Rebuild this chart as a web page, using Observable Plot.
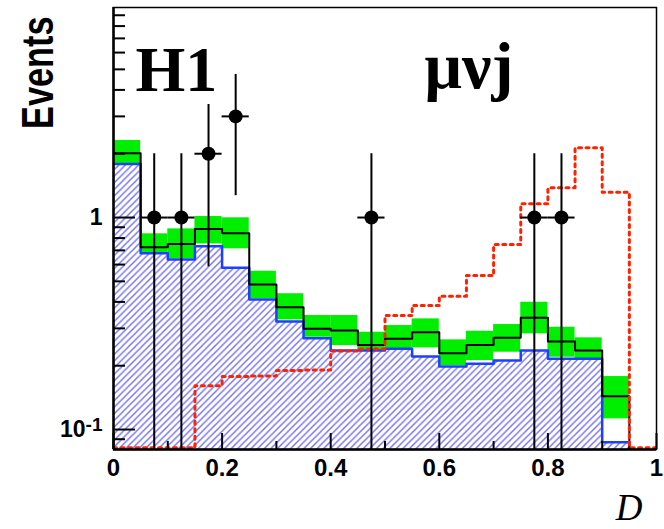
<!DOCTYPE html>
<html><head><meta charset="utf-8">
<script src="https://cdn.jsdelivr.net/npm/d3@7"></script>
<script src="https://cdn.jsdelivr.net/npm/@observablehq/plot@0.6"></script>
<style>body{margin:0;background:#fff} svg{display:block}</style>
</head><body><div id="chart"></div>
<script>
// ---- data ----
const binEdges = [0,0.05,0.1,0.15,0.2,0.25,0.3,0.35,0.4,0.45,0.5,0.55,0.6,0.65,0.7,0.75,0.8,0.85,0.9,0.95,1.0];
const totalSM  = [2.01,0.724,0.751,0.884,0.843,0.483,0.377,0.2985,0.293,0.2508,0.2678,0.2877,0.229,0.2508,0.2707,0.3364,0.2602,0.236,0.1436,0];
const totalHi  = [2.31,0.838,0.884,1.011,0.997,0.558,0.437,0.345,0.345,0.2877,0.3094,0.3327,0.2649,0.2908,0.3128,0.3985,0.3037,0.2707,0.1778,0];
const totalLo  = [1.75,0.626,0.639,0.751,0.712,0.414,0.329,0.2725,0.249,0.2186,0.2318,0.2428,0.2003,0.2116,0.2316,0.2828,0.2193,0.2055,0.1123,0];
const background = [1.79,0.679,0.634,0.732,0.579,0.410,0.323,0.2696,0.236,0.236,0.2402,0.221,0.1982,0.2041,0.2116,0.236,0.2156,0.2156,0.0871,0];
const signal   = [0,0,0,0.161,0.178,0.179,0.190,0.191,0.2346,0.240,0.345,0.3845,0.4253,0.5326,0.746,1.16,1.381,2.132,1.316,0];
const dataX    = [0.075,0.125,0.175,0.225,0.475,0.775,0.825];
const dataN    = [1,1,2,3,1,1,1];
const dataErr  = [1,1,1.414,1.732,1,1,1];
const xLabels  = [0,0.2,0.4,0.6,0.8,1];
const xLabelText = ["0","0.2","0.4","0.6","0.8","1"];
const xMinorTicks = [0.1,0.3,0.5,0.7,0.9];
const yMajorTicks = [0.1,1];
const yLabelText = ["10-1","1"];
const yMinorTicks = [0.09,0.2,0.3,0.4,0.5,0.6,0.7,0.8,0.9,2,3,4,5,6,7,8,9];

// ---- layout ----
const W = 664, H = 529;
const mL = 113, mR = 8, mT = 7, mB = 80;
const innerW = W - mL - mR, innerH = H - mT - mB;
const yDomain = [0.0805, 9.79];
const OFF = 0.01;      // below-axis value for empty bins (clipped)
const FLOOR = 0.082;   // empty signal bins are drawn on the floor

const bins = totalSM.map((v,i)=>({x1: binEdges[i], x2: binEdges[i+1], tot: v, hi: totalHi[i], lo: totalLo[i]}));
function steps(vals, zero){
  const pts = vals.map((v,i)=>({x: binEdges[i], y: v > 0 ? v : zero}));
  pts.push({x: binEdges[binEdges.length-1], y: pts[pts.length-1].y});
  return pts;
}
const totSteps = steps(totalSM, OFF);
const bkgSteps = steps(background, OFF);
const sigSteps = steps(signal, FLOOR);
const points = dataX.map((x,i)=>({x, n: dataN[i], lo: dataN[i]-dataErr[i] > 0 ? dataN[i]-dataErr[i] : OFF, hi: dataN[i]+dataErr[i]}));

const sans = "Liberation Sans, Arial, sans-serif";
const serif = "Liberation Serif, Times New Roman, serif";

const svg = Plot.plot({
  width: W, height: H,
  marginLeft: mL, marginRight: mR, marginTop: mT, marginBottom: mB,
  x: {domain: [0,1], axis: null},
  y: {type: "log", domain: yDomain, axis: null},
  style: {fontFamily: sans, background: "white"},
  marks: [
    Plot.rect(bins.filter(b=>b.tot>0), {x1: "x1", x2: "x2", y1: "lo", y2: "hi", fill: "#00ee00"}),
    Plot.areaY(bkgSteps, {x: "x", y1: OFF, y2: "y", curve: "step-after", fill: "url(#hatch)", clip: true}),
    Plot.line(bkgSteps, {x: "x", y: "y", curve: "step-after", stroke: "#1f3fff", strokeWidth: 2.5, clip: true}),
    Plot.line(totSteps, {x: "x", y: "y", curve: "step-after", stroke: "black", strokeWidth: 2, clip: true}),
    Plot.line(sigSteps, {x: "x", y: "y", curve: "step-after", stroke: "#ff2200", strokeWidth: 3, strokeDasharray: "3,4.5", clip: true}),
    Plot.ruleX(points, {x: "x", y1: "lo", y2: "hi", stroke: "black", strokeWidth: 2, clip: true}),
    Plot.ruleY(points, {x1: d=>d.x-0.025, x2: d=>d.x+0.025, y: "n", stroke: "black", strokeWidth: 2}),
    Plot.dot(points, {x: "x", y: "n", r: 7, fill: "black"}),
    // frame and axes
    Plot.frame({stroke: "black", strokeWidth: 1.5}),
    Plot.ruleX([0], {stroke: "black", strokeWidth: 2.5}),
    Plot.ruleY([yDomain[0]], {stroke: "black", strokeWidth: 2.5}),
    Plot.tickX(xLabels, {x: d=>d, stroke: "black", strokeWidth: 2, insetTop: innerH - 16}),
    Plot.tickX(xMinorTicks, {x: d=>d, stroke: "black", strokeWidth: 2, insetTop: innerH - 8}),
    Plot.tickY(yMajorTicks, {y: d=>d, stroke: "black", strokeWidth: 2, insetRight: innerW - 22}),
    Plot.tickY(yMinorTicks, {y: d=>d, stroke: "black", strokeWidth: 2, insetRight: innerW - 12}),
    Plot.text(xLabels, {x: d=>d, text: (d,i)=>xLabelText[i], frameAnchor: "bottom", dy: 26, lineAnchor: "bottom", fontSize: 24, fontWeight: "bold", fill: "black"}),
    Plot.text(yMajorTicks, {y: d=>d, text: (d,i)=>yLabelText[i], frameAnchor: "left", dx: -11, textAnchor: "end", lineAnchor: "middle", fontSize: 23, fontWeight: "bold", fill: "black"}),
    Plot.text(["Events"], {text: d=>d, frameAnchor: "top-left", dx: -75, dy: 9, rotate: -90, textAnchor: "end", lineAnchor: "middle", fontSize: 44, fontWeight: "bold", fill: "black"}),
    Plot.text(["H1"], {text: d=>d, frameAnchor: "top-left", dx: 22, dy: 83, textAnchor: "start", lineAnchor: "bottom", fontSize: 64, fontWeight: "bold", fontFamily: serif, fill: "black"}),
    Plot.text(["μνj"], {text: d=>d, frameAnchor: "top-left", dx: 311, dy: 80, textAnchor: "start", lineAnchor: "bottom", fontSize: 66, fontWeight: "bold", fontFamily: serif, fill: "black"}),
    Plot.text(["D"], {text: d=>d, frameAnchor: "bottom-right", dx: -14, dy: 70, textAnchor: "end", lineAnchor: "bottom", fontSize: 37, fontStyle: "italic", fontFamily: serif, fill: "black"})
  ]
});

// hatch pattern for the background histogram
const s = d3.select(svg);
const pat = s.insert("defs", ":first-child").append("pattern")
  .attr("id", "hatch").attr("patternUnits", "userSpaceOnUse")
  .attr("width", 6.6).attr("height", 6.6);
pat.append("rect").attr("width", 6.6).attr("height", 6.6).attr("fill", "white");
pat.append("path").attr("d", "M-1,1 l2,-2 M0,6.6 l6.6,-6.6 M5.6,7.6 l2,-2")
  .attr("stroke", "#7070f0").attr("stroke-width", 1.4);

s.selectAll("text").each(function(){
  const t = d3.select(this);
  if (t.text() === "10-1") {
    // superscript exponent
    t.text("10");
    t.append("tspan").attr("dy", "-0.3em").attr("font-size", "19px").text("-1");
  } else if (t.text() === "Events") {
    // heavy, condensed axis title as in the reference: squeeze along the text direction
    const tr = t.attr("transform") || "";
    t.attr("transform", tr + " scale(0.78,1)");
  }
});

document.getElementById("chart").appendChild(svg);
</script>
</body></html>
